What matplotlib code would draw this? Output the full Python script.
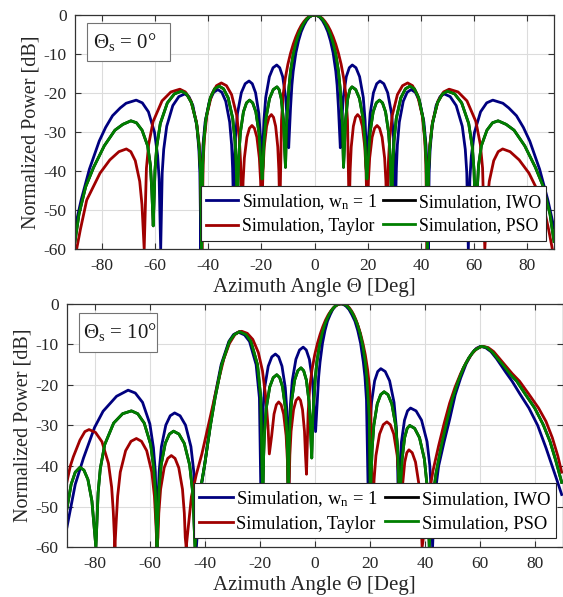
import numpy as np
import matplotlib
matplotlib.use('Agg')
import matplotlib.pyplot as plt
from matplotlib.patches import Rectangle

plt.rcParams['font.family'] = ['Liberation Serif', 'DejaVu Serif']
plt.rcParams['mathtext.fontset'] = 'custom'
plt.rcParams['mathtext.rm'] = 'Liberation Serif'
plt.rcParams['mathtext.it'] = 'Liberation Serif:italic'
plt.rcParams['axes.unicode_minus'] = False

top_uni_ang = [0, 1, 2, 3, 4, 5, 6, 7, 8, 8.5, 9, 9.7,
               10.26, 10.83, 11.95, 13.08, 14.2, 15.58, 16.95, 18.33, 19.01, 19.36, 19.7,
               20.01, 20.31, 20.93, 22.15, 23.38, 24.6, 26.05, 27.5, 28.95, 29.68, 30.04, 30.4,
               30.77, 31.14, 31.88, 33.35, 34.83, 36.3, 37.9, 39.5, 41.1, 41.9, 42.3, 42.7,
               43.08, 43.45, 44.2, 45.7, 47.2, 48.7, 50.98, 53.25, 55.53, 56.66, 57.23, 57.8,
               58.38, 58.95, 60.1, 62.4, 64.7, 67.0, 70.8, 73.0, 75.9, 78.5, 80.9, 84.6, 87.7, 90.0]
top_uni_db = [0, -0.15, -0.6, -1.45, -2.7, -4.3, -6.6, -9.7, -14.4, -18.0, -23.7, -34,
              -27.0, -21.1, -15.8, -13.5, -12.8, -13.5, -15.8, -21.1, -27.0, -33.0, -43,
              -37.1, -31.1, -25.2, -19.9, -17.6, -16.9, -17.6, -19.9, -25.2, -31.1, -37.1, -50,
              -39.3, -33.3, -27.4, -22.1, -19.8, -19.1, -19.8, -22.1, -27.4, -33.3, -39.3, -60,
              -40.4, -34.4, -28.5, -23.2, -20.9, -20.2, -20.9, -23.2, -28.5, -34.4, -40.4, -60,
              -42.0, -36.0, -30.1, -24.8, -22.5, -21.8, -22.6, -23.8, -25.8, -28.8, -32.3, -39.5, -47.4, -54.5]

top_tay_ang = [0, 1, 2, 3, 4, 5, 6, 7, 8, 9, 10, 11, 11.8, 12.4, 13.0,
               13.2, 13.4, 13.8, 14.6, 15.4, 16.2, 17.1, 18.0, 18.9, 19.35, 19.58, 19.8,
               20.03, 20.26, 20.73, 21.65, 22.58, 23.5, 24.45, 25.4, 26.35, 26.83, 27.06, 27.3,
               27.78, 28.26, 29.23, 31.15, 33.08, 35.0, 36.83, 38.65, 40.48, 41.39, 41.84, 42.3,
               42.82, 43.34, 44.38, 46.45, 48.53, 50.6, 53.95, 57.3, 60.65, 62.33, 63.16, 64.0,
               64.42, 64.84, 65.68, 67.35, 69.03, 70.7, 73.5, 76.9, 80.6, 85.6, 88.0, 89.4, 90.0]
top_tay_db = [0, -0.1, -0.4, -0.9, -1.7, -2.7, -4.0, -5.6, -7.5, -9.8, -12.6, -16.3, -20.5, -27, -50,
              -45.7, -39.7, -33.8, -28.5, -26.2, -25.5, -26.2, -28.5, -33.8, -39.7, -45.7, -50,
              -48.5, -42.5, -36.6, -31.3, -29.0, -28.3, -29.0, -31.3, -36.6, -42.5, -48.5, -50,
              -37.6, -31.6, -25.7, -20.4, -18.1, -17.4, -18.1, -20.4, -25.7, -31.6, -37.6, -60,
              -39.2, -33.2, -27.3, -22.0, -19.7, -19.0, -19.7, -22.0, -27.3, -33.2, -39.2, -60,
              -54.5, -48.5, -42.6, -37.3, -35.0, -34.3, -35.0, -37.1, -40.5, -47.4, -55, -60, -63]

top_pso_ang = [0, 1, 2, 3, 4, 5, 6, 7, 8, 9, 9.6, 10, 10.5, 10.9,
               11.3, 11.7, 12.5, 13.3, 14.1, 15.5, 16.9, 18.3, 19.0, 19.35, 19.7,
               20.29, 20.88, 22.05, 23.23, 24.4, 25.55, 26.7, 27.85, 28.43, 28.71, 29.0,
               29.43, 29.86, 30.73, 32.45, 34.18, 35.9, 37.53, 39.15, 40.78, 41.59, 42.0, 42.4,
               42.88, 43.35, 44.3, 46.2, 48.1, 50.0, 52.65, 55.3, 57.95, 59.28, 59.94, 60.6,
               61.13, 61.65, 62.7, 64.8, 66.9, 69.0, 72, 75, 79, 83, 86, 88.5, 90]
top_pso_db = [0, -0.12, -0.47, -1.1, -2.1, -3.4, -5.0, -7.2, -10.1, -14.4, -18.5, -22.5, -28, -39,
              -32.6, -26.7, -21.4, -19.1, -18.4, -19.1, -21.4, -26.7, -32.6, -38.6, -42,
              -36.0, -30.1, -24.8, -22.5, -21.8, -22.5, -24.8, -30.1, -36.0, -42.0, -50,
              -38.4, -32.4, -26.5, -21.2, -18.9, -18.2, -18.9, -21.2, -26.5, -32.4, -38.4, -60,
              -39.7, -33.7, -27.8, -22.5, -20.2, -19.5, -20.2, -22.5, -27.8, -33.7, -39.7, -54,
              -45, -38.5, -33.5, -29.5, -27.6, -27.1, -28.0, -29.5, -33.5, -39, -44, -51, -58]

bot_uni_ang = [-90, -87, -84, -80, -76.9, -72, -67.8, -65.2, -62.55, -59.9, -58.6, -57.9, -57.3,
               -56.9, -56.5, -55.7, -54.1, -52.5, -50.9, -48.93, -46.95, -44.98, -43.99, -43.49, -43.0,
               -42.0, -41.0, -40.0, -38.0, -36.4, -34.0, -31.2, -29.5, -27.8, -25.5, -23.7, -21.3, -20.1, -19.5,
               -18.85, -18.2, -16.9, -15.6, -14.3, -13.1, -11.9, -10.7, -10.1, -9.8, -9.5,
               -9.17, -8.84, -8.18, -6.85, -5.53, -4.2, -3.08, -1.95, -0.83, -0.26, 0.3,
               0.93, 1.42, 1.92, 2.82, 3.72, 4.62, 5.61, 6.51, 7.5, 8.4, 9.3, 10.32, 11.34, 12.46, 13.48,
               14.6, 15.62, 16.64, 17.66, 18.24, 18.79, 19.5,
               19.78, 20.06, 20.63, 21.75, 22.88, 24.0, 25.6, 27.2, 28.8, 29.6, 30.0, 30.4,
               30.68, 30.95, 31.5, 32.6, 33.7, 34.8, 36.8, 38.8, 40.8, 41.8, 42.3, 42.8,
               43.5, 45, 47, 49, 51, 53, 55, 57, 58.7, 60.2, 62, 64, 66, 67.5, 69.5, 71.7, 74.5, 77.8,
               81, 84, 86, 88, 89.7]
bot_uni_db = [-55, -44.5, -38.0, -30.5, -26.5, -22.8, -21.3, -22.0, -24.3, -29.6, -35.5, -41.5, -60,
              -47.1, -41.1, -35.2, -29.9, -27.6, -26.9, -27.6, -29.9, -35.2, -41.1, -47.1, -60,
              -50, -44, -39.7, -30, -23.2, -15, -9.3, -7.6, -7.0, -7.7, -9.3, -15, -23.2, -50,
              -26.6, -20.7, -15.4, -13.1, -12.4, -13.1, -15.4, -20.7, -26.6, -32.6, -50,
              -30.9, -24.9, -19.0, -13.7, -11.4, -10.7, -11.4, -13.7, -19.0, -24.9, -31.5,
              -23.7, -18, -14.4, -9.7, -6.6, -4.3, -2.7, -1.45, -0.6, -0.15, 0, -0.15, -0.6, -1.45, -2.7,
              -4.3, -6.6, -9.7, -14.4, -18, -23.7, -50,
              -36.2, -30.2, -24.3, -19.0, -16.7, -16.0, -16.7, -19.0, -24.3, -30.2, -36.2, -50,
              -45.9, -39.9, -34.0, -28.7, -26.4, -25.7, -26.4, -28.7, -34.0, -39.9, -45.9, -60,
              -48, -40, -34, -28.5, -22.5, -18.3, -14.8, -12.3, -11.0, -10.5, -10.8, -11.8, -13.5, -15.0,
              -17.0, -19.1, -22.2, -25.7, -30.0, -35.5, -39.5, -43.5, -47]

bot_tay_ang = [-90, -88.8, -87.7, -85.3, -83.5, -82.0, -79.65, -77.3, -74.95, -73.78, -73.19, -72.6,
               -72.1, -71.6, -70.65, -68.7, -66.75, -64.8, -62.93, -61.05, -59.18, -58.24, -57.77, -57.3,
               -56.97, -56.65, -56.0, -54.7, -53.4, -52.1, -50.75, -49.4, -48.05, -47.38, -47.04, -46.7,
               -44.8, -43, -41, -39, -37, -35, -33, -31, -29, -27.5, -26.5, -24.5, -22.5, -20.5, -19,
               -17.8, -17.0, -16.5,
               -15.65, -14.8, -13.95, -13.1, -12.2, -11.3, -10.4, -9.95, -9.73, -9.5,
               -9.05, -8.6, -7.7, -6.8, -5.9, -5.18, -4.45, -3.73, -3.36, -3.0,
               -2.41, -1.81, -1.01, -0.02, 0.97, 1.97, 2.96, 3.94, 4.93, 5.93, 6.92, 7.9, 8.9, 9.9,
               10.75, 11.59, 12.44, 13.29, 14.14, 14.98, 15.82, 16.67, 17.51, 18.36, 19.21, 19.89, 20.39, 20.9,
               21.23, 21.56, 22.23, 23.55, 24.88, 26.2, 27.45, 28.7, 29.95, 30.58, 30.89, 31.2,
               31.58, 31.95, 32.7, 33.45, 34.2, 35.4, 36.6, 37.8, 38.4, 39.0,
               40.2, 41.5, 43, 45, 47, 49, 51, 53, 55, 57, 59, 61, 63, 65, 67, 69, 71.7, 74.4, 77.8,
               81.3, 84, 86.3, 88.3, 89.7]
bot_tay_db = [-43.8, -40, -37.7, -33.6, -31.5, -31.0, -31.7, -34.0, -39.3, -45.2, -51.2, -60,
              -53.4, -47.4, -41.5, -36.2, -33.9, -33.2, -33.9, -36.2, -41.5, -47.4, -53.4, -60,
              -57.6, -51.6, -45.7, -40.4, -38.1, -37.4, -38.1, -40.4, -45.7, -51.6, -57.6, -60,
              -47.5, -42, -37, -31, -25, -19, -13.5, -9.8, -7.6, -6.9, -6.8, -7.3, -8.8, -12.0, -16.5,
              -23, -30, -37,
              -32.5, -27.2, -24.9, -24.2, -24.9, -27.2, -32.5, -38.4, -44.4, -50,
              -37.3, -31.4, -26.1, -23.8, -23.1, -23.8, -26.1, -31.4, -37.3, -42,
              -27, -20.5, -16.3, -12.6, -9.8, -7.5, -5.6, -4.0, -2.7, -1.7, -0.9, -0.4, -0.1, 0,
              -0.1, -0.4, -0.9, -1.7, -2.7, -4.0, -5.6, -7.5, -9.8, -12.6, -16.3, -20.5, -27, -50,
              -49.3, -43.3, -37.4, -32.1, -29.8, -29.1, -29.8, -32.1, -37.4, -43.3, -49.3, -50,
              -50.2, -44.3, -39.0, -36.7, -36.0, -36.7, -39.0, -44.3, -50.2, -60,
              -54, -47, -41, -35, -29.5, -24.5, -20.5, -17.2, -14.5, -12.4, -11.0, -10.5, -10.8, -11.8,
              -13.4, -15.0, -17.2, -19.1, -22.3, -25.7, -29.0, -33.0, -37.5, -41.5]

bot_pso_ang = [-90, -88.5, -87, -85.3, -83.85, -82.4, -80.95, -80.2, -79.5,
               -78.7, -77.9, -76.3, -73.05, -69.8, -66.6, -64.3, -61.95, -59.6, -58.46, -57.88, -57.3,
               -56.9, -56.55, -55.8, -54.3, -52.8, -51.3, -49.35, -47.4, -45.45, -44.48, -43.99, -43.5,
               -42.3, -41.2, -40.0, -37.9, -36.2, -33.8, -31.0, -29.2, -27.3, -25.0, -23.2, -20.8, -19.6, -18.9,
               -18.58, -18.26, -17.63, -16.35, -15.08, -13.8, -12.75, -11.7, -10.65, -10.13, -9.86, -9.6,
               -9.31, -9.03, -8.45, -7.3, -6.15, -5.0, -4.03, -3.05, -2.08, -1.59, -1.1,
               -0.7, -0.21, 0.17, 0.76, 1.75, 2.73, 3.71, 4.7, 5.67, 6.65, 7.64, 8.6, 9.6, 10.6, 11.54,
               12.5, 13.49, 14.45, 15.43, 16.41, 17.38, 18.36, 18.94, 19.32, 19.81, 20.2,
               20.51, 20.83, 21.45, 22.7, 23.95, 25.2, 26.6, 28.0, 29.4, 30.1, 30.45, 30.8,
               31.03, 31.26, 31.73, 32.65, 33.58, 34.5, 36.28, 38.05, 39.83, 40.71, 41.16, 41.6,
               42.5, 44, 46, 48, 50, 52, 54, 56, 58, 60.5, 62.5, 64.5, 66.5, 68.3, 70.8, 73.4, 76.5,
               79.9, 83, 85.5, 87.5, 89.7]
bot_pso_db = [-50.4, -44.5, -41.5, -40.3, -41.0, -43.3, -48.6, -54.5, -60,
              -46.6, -40.6, -34.7, -29.4, -27.1, -26.4, -27.1, -29.4, -34.7, -40.6, -46.6, -60,
              -51.6, -45.6, -39.7, -34.4, -32.1, -31.4, -32.1, -34.4, -39.7, -45.6, -51.6, -60,
              -50, -44.5, -39.7, -30, -23.2, -15, -9.3, -7.6, -6.9, -7.6, -9.3, -15, -23.2, -50,
              -37.7, -31.7, -25.8, -20.5, -18.2, -17.5, -18.2, -20.5, -25.8, -31.7, -37.7, -50,
              -36.0, -30.0, -24.1, -18.8, -16.5, -15.8, -16.5, -18.8, -24.1, -30.0, -38,
              -28, -22.5, -18.5, -14.4, -10.1, -7.2, -5.0, -3.4, -2.1, -1.15, -0.47, -0.12, 0, -0.12, -0.47,
              -1.15, -2.1, -3.4, -5.0, -7.2, -10.1, -14.4, -18.5, -22.5, -28, -50,
              -41.9, -35.9, -30.0, -24.7, -22.4, -21.7, -22.4, -24.7, -30.0, -35.9, -41.9, -50,
              -50.2, -44.2, -38.3, -33.0, -30.7, -30.0, -30.7, -33.0, -38.3, -44.2, -50.2, -60,
              -50, -42, -35, -29, -23.5, -19.3, -15.8, -13.3, -11.5, -10.5, -10.8, -11.9, -13.6, -15.0,
              -17.2, -19.1, -22.3, -25.7, -29.8, -34.0, -38.5, -44]

# IWO result coincides with the PSO result (hidden beneath it in the reference)
top_iwo_ang, top_iwo_db = top_pso_ang, top_pso_db
bot_iwo_ang, bot_iwo_db = bot_pso_ang, bot_pso_db

labels = ['Simulation, w$_{\\rm n}$ = 1', 'Simulation, IWO',
          'Simulation, Taylor', 'Simulation, PSO']
scan_labels = ['\u0398$_{\\rm s}$ = 0\u00b0', '\u0398$_{\\rm s}$ = 10\u00b0']
x_ticks = [-80, -60, -40, -20, 0, 20, 40, 60, 80]
y_ticks = [-60, -50, -40, -30, -20, -10, 0]

C_UNI = '#00007f'
C_IWO = '#000000'
C_TAY = '#a00000'
C_PSO = '#007f00'


def mirror(ang, db):
    a = np.asarray(ang, float)
    d = np.asarray(db, float)
    return np.concatenate([-a[::-1], a[1:]]), np.concatenate([d[::-1], d[1:]])


fig = plt.figure(figsize=(5.63, 5.97), dpi=100)
ax_top = fig.add_axes([75 / 563, 1 - 249.3 / 597, 479 / 563, 234.3 / 597])
ax_bot = fig.add_axes([67 / 563, 1 - 547.3 / 597, 495.5 / 563, 243.6 / 597])

# (box x0, y0, x1, y1 in axes fraction, text x, text y)
panels = [
    (ax_top, mirror(top_uni_ang, top_uni_db), mirror(top_iwo_ang, top_iwo_db),
     mirror(top_tay_ang, top_tay_db), mirror(top_pso_ang, top_pso_db), scan_labels[0],
     (0.0257, 0.8037, 0.1983, 0.9671, 0.037, 0.886), (1 - 7.6 / 479, 8.6 / 234.3), 12.8),
    (ax_bot, (bot_uni_ang, bot_uni_db), (bot_iwo_ang, bot_iwo_db),
     (bot_tay_ang, bot_tay_db), (bot_pso_ang, bot_pso_db), scan_labels[1],
     (0.0242, 0.803, 0.181, 0.963, 0.0329, 0.883), (1 - 6.5 / 495.5, 9.0 / 243.6), 13.4),
]

LW = 2.0
for ax, uni, iwo, tay, pso, slabel, box, lpos, lfs in panels:
    assert len(uni[0]) == len(uni[1]) and len(tay[0]) == len(tay[1]) and len(pso[0]) == len(pso[1])
    h_uni, = ax.plot(uni[0], uni[1], color=C_UNI, lw=LW, zorder=2.0)
    h_iwo, = ax.plot(iwo[0], iwo[1], color=C_IWO, lw=LW, zorder=2.1)
    h_tay, = ax.plot(tay[0], tay[1], color=C_TAY, lw=LW, zorder=2.2)
    h_pso, = ax.plot(pso[0], pso[1], color=C_PSO, lw=LW, zorder=2.3)
    ax.set_xlim(-90, 90)
    ax.set_ylim(-60, 0)
    ax.set_xticks(x_ticks)
    ax.set_yticks(y_ticks)
    ax.grid(True, color='#dcdcdc', lw=0.8, zorder=0)
    ax.set_axisbelow(True)
    for s in ax.spines.values():
        s.set_color('0.2')
        s.set_linewidth(0.9)
    ax.tick_params(direction='in', length=4, width=0.8, color='0.2', labelcolor='0.15',
                   labelsize=12.5, top=True, right=True, pad=6)
    ax.set_xlabel('Azimuth Angle \u0398 [Deg]', fontsize=15, color='0.15', labelpad=3)
    ax.set_ylabel('Normalized Power [dB]', fontsize=14.5, color='0.15', labelpad=2.5)
    leg = ax.legend([h_uni, h_tay, h_iwo, h_pso],
                    [labels[0], labels[2], labels[1], labels[3]],
                    ncol=2, loc='lower right', bbox_to_anchor=lpos, borderaxespad=0,
                    fontsize=lfs, handlelength=1.8, handletextpad=0.2, columnspacing=0.35,
                    labelspacing=0.38, borderpad=0.3, fancybox=False, edgecolor='0.15',
                    framealpha=1)
    leg.get_frame().set_linewidth(0.8)
    leg.set_zorder(5)
    bx0, by0, bx1, by1, tx, ty = box
    ax.add_patch(Rectangle((bx0, by0), bx1 - bx0, by1 - by0, transform=ax.transAxes,
                           fc='white', ec='0.45', lw=0.8, zorder=6))
    ax.text(tx, ty, slabel, transform=ax.transAxes, fontsize=15, va='center', ha='left',
            color='0.1', zorder=7)

fig.savefig('out.png', dpi=100)
